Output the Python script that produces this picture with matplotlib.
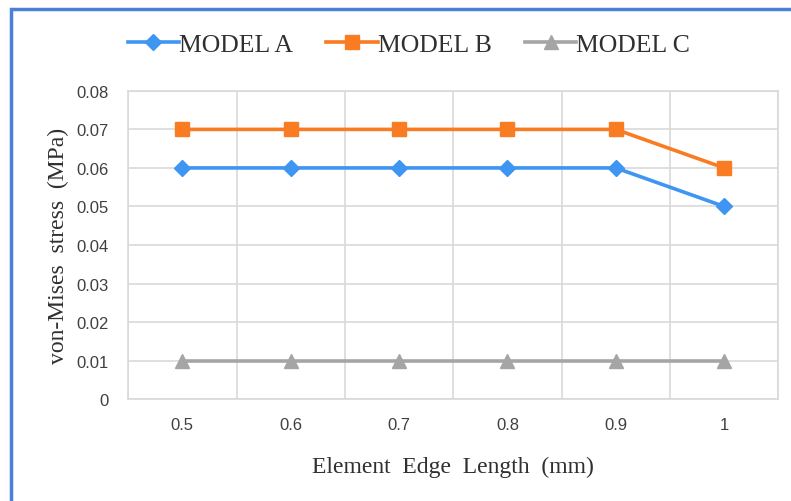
import matplotlib.pyplot as plt
from matplotlib.patches import Rectangle

# data
edge_length = ['0.5', '0.6', '0.7', '0.8', '0.9', '1']
model_a = [0.06, 0.06, 0.06, 0.06, 0.06, 0.05]
model_b = [0.07, 0.07, 0.07, 0.07, 0.07, 0.06]
model_c = [0.01, 0.01, 0.01, 0.01, 0.01, 0.01]
y_ticks = [0, 0.01, 0.02, 0.03, 0.04, 0.05, 0.06, 0.07, 0.08]
y_tick_labels = ['0', '0.01', '0.02', '0.03', '0.04', '0.05', '0.06', '0.07', '0.08']

serif = 'Liberation Serif'
sans = 'Liberation Sans'

fig = plt.figure(figsize=(7.91, 5.02), dpi=100)
ax = fig.add_axes([0.162, 0.203, 0.822, 0.614])

x = list(range(len(edge_length)))
ax.plot(x, model_a, color='#3F95F2', lw=2.6, marker='D', markersize=8, label='MODEL A')
ax.plot(x, model_b, color='#F97B22', lw=2.6, marker='s', markersize=10.5, label='MODEL B')
ax.plot(x, model_c, color='#A5A5A5', lw=2.6, marker='^', markersize=9.5, label='MODEL C')

ax.set_xlim(-0.5, len(edge_length) - 0.5)
ax.set_ylim(0, 0.08)
ax.set_yticks(y_ticks)
ax.set_yticklabels(y_tick_labels, fontfamily=sans, fontsize=12, color='#404040')
ax.set_xticks(x)
ax.set_xticklabels(edge_length, fontfamily=sans, fontsize=12, color='#404040')
ax.set_xticks([i - 0.5 for i in range(len(edge_length) + 1)], minor=True)
ax.tick_params(axis='both', which='both', length=0)
ax.tick_params(axis='y', pad=14)
ax.tick_params(axis='x', pad=13)

# excel style grid: horizontal at ticks, vertical at category borders
ax.grid(True, axis='y', which='major', color='#D9D9D9', lw=1.2)
ax.grid(True, axis='x', which='minor', color='#D9D9D9', lw=1.2)
ax.set_axisbelow(True)
for s in ax.spines.values():
    s.set_color('#D9D9D9')
    s.set_linewidth(1.2)

ax.set_xlabel('Element  Edge  Length  (mm)', fontfamily=serif, fontsize=17, color='#303030', labelpad=17)
ax.set_ylabel('von-Mises  stress  (MPa)', fontfamily=serif, fontsize=17, color='#303030', labelpad=5)

leg = fig.legend(loc='center', bbox_to_anchor=(0.517, 0.91), ncol=3, frameon=False,
                 prop={'family': serif, 'size': 18.5}, handlelength=2.0,
                 handletextpad=0.0, columnspacing=1.3, labelcolor='#303030')

# blue frame around the chart (cut off at right and bottom)
fig.patches.append(Rectangle((11 / 791, -0.1), 1.2, 1.1 - 10 / 502, transform=fig.transFigure,
                             fill=False, edgecolor='#4A80D6', lw=2.5))

fig.savefig('out.png', dpi=100)
